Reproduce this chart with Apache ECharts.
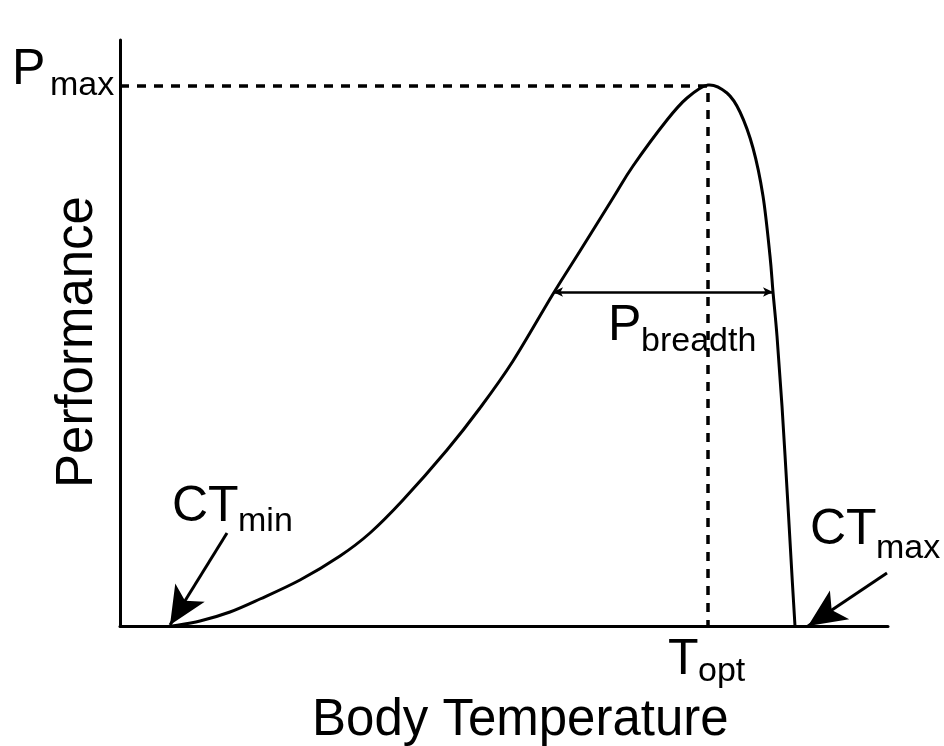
<!DOCTYPE html>
<html>
<head>
<meta charset="utf-8">
<script src="https://cdn.jsdelivr.net/npm/echarts@6/dist/echarts.min.js"></script>
<style>
  html, body { margin: 0; padding: 0; background: #fff; }
  #chart { width: 944px; height: 746px; }
</style>
</head>
<body>
<div id="chart"></div>
<script>
  // axis ranges (arbitrary units, no ticks shown)
  const xRange = [0, 768];
  const yRange = [0, 586];

  // thermal performance curve
  const curveX = [52, 80, 110, 140, 180, 220, 250, 283, 327, 360, 393, 433, 460, 493, 513, 547, 567, 588, 607, 620, 633, 643, 650, 653, 657, 662, 668, 672, 675];
  const curveY = [0, 5, 14, 27, 46, 70, 93, 126, 176, 218, 265, 332, 375, 428, 460, 506, 528, 541, 533, 514, 478, 430, 370, 334, 290, 220, 120, 50, 0];

  // reference points
  const peak = [588, 540];           // T_opt, P_max
  const breadth = [433, 653, 334];   // x from, x to, y
  const ctMinArrow = [[107, 93], [50, 1]];
  const ctMaxArrow = [[767, 53], [688, 0]];

  // text labels: [main, sub, x, baseline, subX, subBaseline]
  const labels = [
    ['P', 'max', 12, 87, 50, 97],
    ['CT', 'min', 172, 524, 238, 533],
    ['CT', 'max', 810, 547, 876, 560],
    ['P', 'breadth', 608, 343, 641, 353],
    ['T', 'opt', 668, 677, 698, 683]
  ];
  const xTitle = 'Body Temperature';
  const yTitle = 'Performance';

  const font = '"Liberation Sans", Arial, sans-serif';
  const bigSize = 50;
  const subSize = 34;
  const titleSize = 51;

  const chart = echarts.init(document.getElementById('chart'));

  const graphics = [];
  labels.forEach(l => {
    graphics.push({
      type: 'text',
      style: {
        text: l[0], x: l[2], y: l[3] - bigSize * 0.33,
        font: bigSize + 'px ' + font, fill: '#000',
        textAlign: 'left', textVerticalAlign: 'middle'
      }
    });
    graphics.push({
      type: 'text',
      style: {
        text: l[1], x: l[4], y: l[5] - subSize * 0.33,
        font: subSize + 'px ' + font, fill: '#000',
        textAlign: 'left', textVerticalAlign: 'middle'
      }
    });
  });
  graphics.push({
    type: 'text',
    style: {
      text: xTitle, x: 312, y: 738 - titleSize * 0.33,
      font: titleSize + 'px ' + font, fill: '#000',
      textAlign: 'left', textVerticalAlign: 'middle'
    }
  });
  graphics.push({
    type: 'text',
    x: 95 - titleSize * 0.33, y: 342,
    rotation: Math.PI / 2,
    style: {
      text: yTitle, x: 0, y: 0,
      font: titleSize + 'px ' + font, fill: '#000',
      textAlign: 'center', textVerticalAlign: 'middle'
    }
  });

  // smooth curve through the points (catmull-rom as bezier), using the axis scales
  function renderCurve(params, api) {
    if (params.dataIndex !== 0) return null;
    const pts = curveX.map((x, i) => api.coord([x, curveY[i]]));
    const n = pts.length;
    let d = 'M' + pts[0][0] + ' ' + pts[0][1];
    for (let i = 0; i < n - 1; i++) {
      const p0 = pts[Math.max(i - 1, 0)];
      const p1 = pts[i];
      const p2 = pts[i + 1];
      const p3 = pts[Math.min(i + 2, n - 1)];
      const c1x = p1[0] + (p2[0] - p0[0]) / 6;
      const c1y = p1[1] + (p2[1] - p0[1]) / 6;
      const c2x = p2[0] - (p3[0] - p1[0]) / 6;
      const c2y = p2[1] - (p3[1] - p1[1]) / 6;
      d += ' C' + c1x + ' ' + c1y + ' ' + c2x + ' ' + c2y + ' ' + p2[0] + ' ' + p2[1];
    }
    return {
      type: 'path',
      shape: { pathData: d },
      style: { fill: null, stroke: '#000', lineWidth: 3 }
    };
  }

  const option = {
    animation: false,
    backgroundColor: '#fff',
    grid: { left: 120, right: 56, top: 40, bottom: 120 },
    xAxis: {
      type: 'value', min: xRange[0], max: xRange[1],
      axisLine: { show: true, lineStyle: { color: '#000', width: 3 } },
      axisTick: { show: false }, axisLabel: { show: false }, splitLine: { show: false }
    },
    yAxis: {
      type: 'value', min: yRange[0], max: yRange[1],
      axisLine: { show: true, lineStyle: { color: '#000', width: 3 } },
      axisTick: { show: false }, axisLabel: { show: false }, splitLine: { show: false }
    },
    series: [
      {
        type: 'custom',
        data: curveX.map((x, i) => [x, curveY[i]]),
        renderItem: renderCurve,
        silent: true,
        clip: false,
        z: 5
      },
      {
        type: 'line',
        data: [[0, peak[1]], peak, [peak[0], 0]],
        showSymbol: false,
        symbol: 'none',
        silent: true,
        lineStyle: { color: '#000', width: 3.5, type: [9, 8] },
        z: 4,
        markLine: {
          silent: true,
          label: { show: false },
          emphasis: { disabled: true },
          data: [
            [
              { coord: ctMinArrow[0], symbol: 'none', lineStyle: { color: '#000', width: 3, type: 'solid' } },
              { coord: ctMinArrow[1], symbol: 'arrow', symbolSize: [26, 38] }
            ],
            [
              { coord: ctMaxArrow[0], symbol: 'none', lineStyle: { color: '#000', width: 3, type: 'solid' } },
              { coord: ctMaxArrow[1], symbol: 'arrow', symbolSize: [26, 38] }
            ],
            [
              { coord: [breadth[0], breadth[2]], symbol: 'arrow', symbolSize: [7, 10], lineStyle: { color: '#000', width: 2.5, type: 'solid' } },
              { coord: [breadth[1], breadth[2]], symbol: 'arrow', symbolSize: [7, 10] }
            ]
          ]
        }
      }
    ],
    graphic: graphics
  };

  chart.setOption(option);
</script>
</body>
</html>
